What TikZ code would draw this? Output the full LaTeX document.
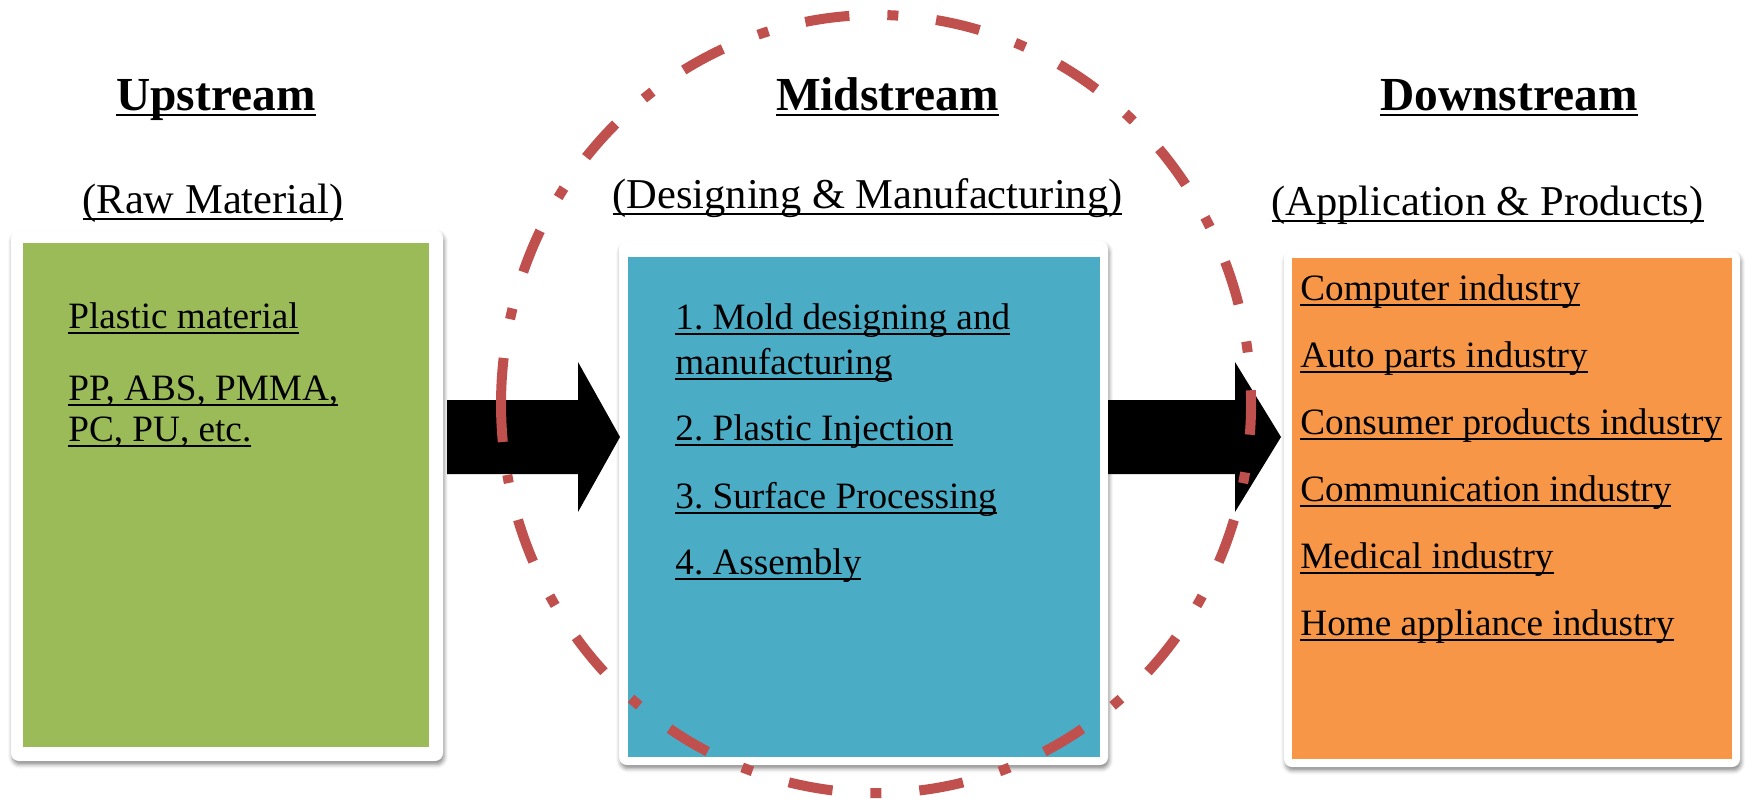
\documentclass[tikz,border=0pt]{standalone}
\usepackage{fontspec}
\setmainfont{Liberation Serif}
\usetikzlibrary{fit,shadows.blur}
\frenchspacing
\definecolor{upgreen}{HTML}{9BBB59}
\definecolor{midblue}{HTML}{4BACC6}
\definecolor{downorange}{HTML}{F79646}
\definecolor{ringred}{HTML}{C0504D}
\newsavebox{\ulbox}
\newcommand{\ulh}[1]{\sbox{\ulbox}{#1}\rlap{\rule[-3.2pt]{\wd\ulbox}{1.35pt}}\usebox{\ulbox}}
\newcommand{\uls}[1]{\sbox{\ulbox}{#1}\rlap{\rule[-3.3pt]{\wd\ulbox}{1pt}}\usebox{\ulbox}}
\newcommand{\uli}[1]{\sbox{\ulbox}{#1}\rlap{\rule[-2.9pt]{\wd\ulbox}{1pt}}\usebox{\ulbox}}
\tikzset{
  frame/.style={fill=white, rounded corners=4pt, inner sep=0pt,
    blur shadow={shadow xshift=0.6pt, shadow yshift=-1.8pt, shadow blur radius=2pt, shadow opacity=45}},
  panel/.style={inner sep=0pt, draw=none},
  head/.style={anchor=base, inner sep=0pt, font=\fontsize{23.7}{28}\selectfont\bfseries\frenchspacing},
  sub/.style={anchor=base, inner sep=0pt, font=\fontsize{21.25}{25}\selectfont\frenchspacing},
  item/.style={anchor=base west, inner sep=0pt, font=\fontsize{18.6}{22}\selectfont\frenchspacing},
  blockarrow/.style={fill=black},
  ring/.style={draw=ringred, line width=5pt},
  ringdash/.style={ring, dash pattern=on 5.5pt off 19pt on 22.25pt off 19pt}
}
\begin{document}
\begin{tikzpicture}[x=0.5pt,y=-0.5pt]
\useasboundingbox (0,0) rectangle (1752,803);
% headings
\node[head] (hup) at (216,110) {\ulh{Upstream}};
\node[head] (hmid) at (887.5,110) {\ulh{Midstream}};
\node[head] (hdown) at (1509,110) {\ulh{Downstream}};
\node[sub] (sup1) at (213,213) {\uls{(Raw Material)}};
\node[sub] (smid) at (867.5,208) {\uls{(Designing \& Manufacturing)}};
\node[sub] (sdown) at (1487.5,215) {\uls{(Application \& Products)}};
% frames and panels
\node[frame, fit={(11,230) (443,761)}] (gframe) {};
\node[panel, fill=upgreen, fit={(23,243) (429,747)}] (gbox) {};
\node[frame, fit={(619,241) (1108,765)}] (bframe) {};
\node[panel, fill=midblue, fit={(628,257) (1100,757)}] (bbox) {};
\node[frame, fit={(1284,251) (1740,767)}] (oframe) {};
\node[panel, fill=downorange, fit={(1292,258) (1732,759)}] (obox) {};
% green texts
\node[item] (g1) at (68,328) {\uli{Plastic material}};
\node[item] (g2) at (68,400) {\uli{PP, ABS, PMMA,}};
\node[item] (g3) at (68,441) {\uli{PC, PU, etc.}};
% blue texts
\node[item] (b1) at (675,329) {\uli{1. Mold designing and}};
\node[item] (b1b) at (675,374) {\uli{manufacturing}};
\node[item] (b2) at (675,440) {\uli{2. Plastic Injection}};
\node[item] (b3) at (675,508) {\uli{3. Surface Processing}};
\node[item] (b4) at (675,574) {\uli{4. Assembly}};
% orange texts
\node[item] (o1) at (1300,300) {\uli{Computer industry}};
\node[item] (o2) at (1300,367) {\uli{Auto parts industry}};
\node[item] (o3) at (1300,434) {\uli{Consumer products industry}};
\node[item] (o4) at (1300,501) {\uli{Communication industry}};
\node[item] (o5) at (1300,568) {\uli{Medical industry}};
\node[item] (o6) at (1300,635) {\uli{Home appliance industry}};
% block arrows
\coordinate (a1s) at (447,437);
\coordinate (a1e) at (620,437);
\coordinate (a2s) at (1108,437);
\coordinate (a2e) at (1281,437);
\fill[blockarrow] (a1s) ++(0,-37) -- ++(131,0) -- ++(0,-38) -- (a1e) -- ++(-42,75) -- ++(0,-38) -- ++(-131,0) -- cycle;
\fill[blockarrow] (a2s) ++(0,-37) -- ++(127,0) -- ++(0,-38) -- (a2e) -- ++(-46,75) -- ++(0,-38) -- ++(-127,0) -- cycle;
% dash-dot ring
\coordinate (rc) at (876,404);
\draw[ring] (rc) ++(174.4:375 and 389) arc[start angle=174.4, end angle=186.8, x radius=375, y radius=389];
\draw[ringdash] (rc) ++(192.6:375 and 389) arc[start angle=192.6, delta angle=336.9, x radius=375, y radius=389];
\end{tikzpicture}
\end{document}
